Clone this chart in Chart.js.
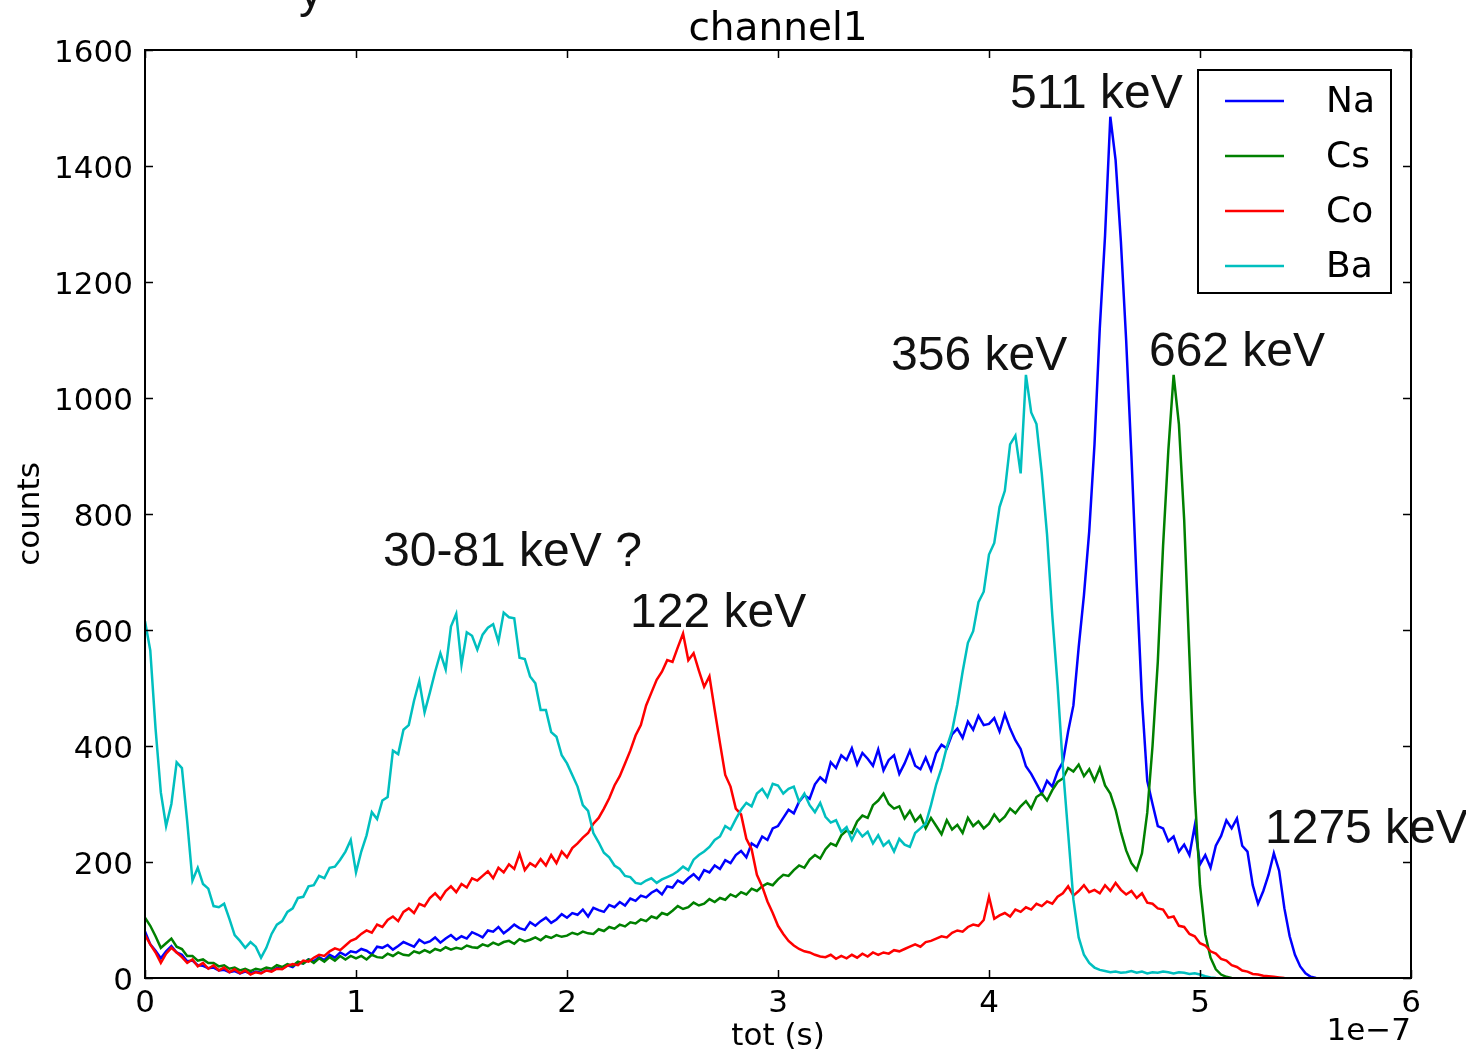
<!DOCTYPE html>
<html>
<head>
<meta charset="utf-8">
<title>channel1</title>
<script src="https://cdn.jsdelivr.net/npm/chart.js@4.4.1/dist/chart.umd.min.js"></script>
<style>
  html, body { margin: 0; padding: 0; background: #ffffff; }
  canvas { display: block; }
</style>
</head>
<body>
<canvas id="spectrum" width="1466" height="1052"></canvas>
<script>
// Bin positions of the time-over-threshold histogram, in units of 1e-7 s
const totBins = [
  0,0.025,0.05,0.075,0.1,0.125,0.15,0.175,0.2,0.225,0.25,0.275,0.3,0.325,0.35,0.375,0.4,0.425,0.45,0.475,
  0.5,0.525,0.55,0.575,0.6,0.625,0.65,0.675,0.7,0.725,0.75,0.775,0.8,0.825,0.85,0.875,0.9,0.925,0.95,0.975,
  1,1.025,1.05,1.075,1.1,1.125,1.15,1.175,1.2,1.225,1.25,1.275,1.3,1.325,1.35,1.375,1.4,1.425,1.45,1.475,
  1.5,1.525,1.55,1.575,1.6,1.625,1.65,1.675,1.7,1.725,1.75,1.775,1.8,1.825,1.85,1.875,1.9,1.925,1.95,1.975,
  2,2.025,2.05,2.075,2.1,2.125,2.15,2.175,2.2,2.225,2.25,2.275,2.3,2.325,2.35,2.375,2.4,2.425,2.45,2.475,
  2.5,2.525,2.55,2.575,2.6,2.625,2.65,2.675,2.7,2.725,2.75,2.775,2.8,2.825,2.85,2.875,2.9,2.925,2.95,2.975,
  3,3.025,3.05,3.075,3.1,3.125,3.15,3.175,3.2,3.225,3.25,3.275,3.3,3.325,3.35,3.375,3.4,3.425,3.45,3.475,
  3.5,3.525,3.55,3.575,3.6,3.625,3.65,3.675,3.7,3.725,3.75,3.775,3.8,3.825,3.85,3.875,3.9,3.925,3.95,3.975,
  4,4.025,4.05,4.075,4.1,4.125,4.15,4.175,4.2,4.225,4.25,4.275,4.3,4.325,4.35,4.375,4.4,4.425,4.45,4.475,
  4.5,4.525,4.55,4.575,4.6,4.625,4.65,4.675,4.7,4.725,4.75,4.775,4.8,4.825,4.85,4.875,4.9,4.925,4.95,4.975,
  5,5.025,5.05,5.075,5.1,5.125,5.15,5.175,5.2,5.225,5.25,5.275,5.3,5.325,5.35,5.375,5.4,5.425,5.45,5.475,
  5.5,5.525,5.55
];

// Counts per bin for each source
const naCounts = [
  80,58,47,34,46,55,44,40,29,30,22,21,17,18,13,14,10,12,8,11,
  8,11,9,13,12,17,16,22,19,27,25,32,29,36,31,40,35,44,39,46,
  44,50,47,41,54,52,57,49,55,62,58,54,66,60,63,70,61,68,74,66,
  72,68,79,75,70,82,80,88,77,84,92,86,83,96,90,98,104,95,101,110,
  104,112,109,118,106,121,117,114,126,122,131,125,137,133,142,139,147,152,144,158,
  156,168,163,172,179,170,186,182,194,188,203,198,212,219,208,232,226,244,238,258,
  262,276,290,284,304,315,309,334,346,338,372,362,384,376,396,368,388,378,366,394,
  358,376,384,352,370,392,366,360,380,358,388,402,396,420,430,414,442,428,452,436,
  438,448,425,455,430,410,395,365,352,335,318,340,330,356,372,425,470,570,660,770,
  920,1120,1280,1485,1410,1270,1100,900,680,480,340,300,262,258,236,244,218,230,212,262,
  196,212,190,228,245,272,258,275,228,218,160,128,150,178,215,185,120,72,40,20,
  8,2,0
];

const csCounts = [
  104,90,72,52,60,68,54,50,38,38,30,32,26,26,20,22,16,18,13,16,
  12,16,14,18,16,22,19,24,21,28,25,32,26,34,28,36,30,38,32,38,
  34,38,32,40,36,35,42,38,44,40,39,46,43,48,44,50,47,53,49,52,
  50,56,53,52,58,55,61,57,62,64,59,67,63,66,70,65,72,69,74,71,
  73,78,75,80,77,76,84,81,88,85,92,89,96,94,101,98,106,103,112,109,
  116,124,119,122,130,125,128,136,131,138,135,144,140,148,144,154,150,158,163,160,
  170,178,176,186,194,190,204,212,206,222,232,228,246,254,250,270,280,276,298,306,
  318,300,292,296,275,288,270,280,258,276,262,248,272,256,264,250,276,262,270,258,
  266,282,270,278,292,284,296,305,292,312,318,306,324,338,344,362,356,368,348,360,
  340,362,332,318,290,252,220,198,186,215,285,400,545,745,910,1040,955,790,555,320,
  160,75,35,15,6,2,0
];

const coCounts = [
  74,58,44,26,42,52,44,36,26,32,20,26,16,22,13,18,10,15,8,13,
  6,10,8,13,11,16,15,21,24,22,30,28,35,40,38,46,51,48,56,64,
  68,76,82,78,92,88,100,106,98,114,120,112,128,124,138,146,136,150,158,148,
  162,156,172,168,176,184,172,190,182,196,188,214,186,198,192,205,194,212,198,218,
  208,224,232,242,250,266,276,292,310,332,348,370,392,418,436,470,492,514,528,548,
  545,570,594,548,560,530,502,520,462,405,350,330,292,282,240,222,178,158,132,112,
  90,76,64,56,50,46,44,40,37,36,40,33,38,34,40,35,42,37,44,40,
  44,42,48,46,50,54,58,54,62,64,68,72,70,78,82,80,88,92,90,100,
  140,102,108,112,106,118,114,122,118,128,124,132,128,140,146,158,142,150,160,148,
  152,146,160,150,164,152,144,150,138,146,130,128,120,118,104,106,90,88,76,72,
  60,56,46,42,33,30,22,19,13,11,7,6,4,3,2,1,0
];

const baCounts = [
  615,565,430,320,262,300,372,362,270,168,190,162,154,124,122,128,102,74,64,52,
  62,54,35,52,76,92,98,114,120,138,140,158,160,176,172,190,192,204,218,238,
  182,218,246,286,274,306,312,392,386,428,436,478,512,458,492,528,560,532,606,628,
  540,596,590,566,592,604,610,580,630,622,620,552,550,520,508,462,462,424,416,384,
  370,350,330,298,288,250,234,216,208,194,188,176,174,164,162,168,172,164,170,174,
  178,184,192,186,204,212,218,226,238,244,262,256,274,290,302,296,318,326,312,335,
  332,318,326,330,304,318,298,286,302,278,268,272,252,260,238,256,244,252,232,246,
  228,236,218,240,230,226,250,258,266,298,334,362,398,426,472,528,578,598,648,666,
  730,750,812,840,920,935,870,1040,975,955,870,765,625,505,365,250,135,70,40,26,
  18,14,12,10,11,9,10,12,9,11,8,10,9,11,10,8,10,9,7,8,
  6,3,1,0
];

const sourceNames = ['Na', 'Cs', 'Co', 'Ba'];
const xTickValues = [0, 1, 2, 3, 4, 5, 6];
const yTickValues = [0, 200, 400, 600, 800, 1000, 1200, 1400, 1600];

// Photopeak notes, anchored in data coordinates (left edge, text baseline)
const peakNotes = [
  { text: '511 keV',     x: 4.100, y: 1500 },
  { text: '356 keV',     x: 3.536, y: 1048 },
  { text: '662 keV',     x: 4.758, y: 1055 },
  { text: '30-81 keV ?', x: 1.128, y: 710 },
  { text: '122 keV',     x: 2.299, y: 605 },
  { text: '1275 keV',    x: 5.308, y: 233 }
];

const lineColors = ['#0000ff', '#008000', '#ff0000', '#00bfbf'];
const countSeries = [naCounts, csCounts, coCounts, baCounts];

const AXIS_FONT = '"DejaVu Sans", "Liberation Sans", sans-serif';
const NOTE_FONT = '"Liberation Sans", Arial, sans-serif';

// Axes frame, inward ticks, tick labels, titles, notes and legend
const axesDecor = {
  id: 'axesDecor',
  afterDatasetsDraw(chart) {
    const { ctx, chartArea: a, scales: { x, y } } = chart;
    ctx.save();

    // frame
    ctx.strokeStyle = '#000';
    ctx.lineWidth = 2;
    ctx.strokeRect(a.left, a.top, a.right - a.left, a.bottom - a.top);

    // inward ticks on all four sides
    ctx.lineWidth = 1.5;
    ctx.beginPath();
    xTickValues.forEach(v => {
      const px = Math.round(x.getPixelForValue(v)) + 0.5;
      ctx.moveTo(px, a.bottom); ctx.lineTo(px, a.bottom - 8);
      ctx.moveTo(px, a.top); ctx.lineTo(px, a.top + 8);
    });
    yTickValues.forEach(v => {
      const py = Math.round(y.getPixelForValue(v)) + 0.5;
      ctx.moveTo(a.left, py); ctx.lineTo(a.left + 8, py);
      ctx.moveTo(a.right, py); ctx.lineTo(a.right - 8, py);
    });
    ctx.stroke();

    // tick labels
    ctx.fillStyle = '#000';
    ctx.font = '31px ' + AXIS_FONT;
    ctx.textAlign = 'center';
    ctx.textBaseline = 'alphabetic';
    xTickValues.forEach(v => {
      ctx.fillText(String(v), x.getPixelForValue(v), a.bottom + 34);
    });
    ctx.textAlign = 'right';
    yTickValues.forEach(v => {
      ctx.fillText(String(v), a.left - 12, y.getPixelForValue(v) + 12);
    });

    // offset (scale factor) of the x axis
    ctx.textAlign = 'right';
    ctx.fillText('1e\u22127', a.right, a.bottom + 62);

    // axis labels
    ctx.textAlign = 'center';
    ctx.fillText('tot (s)', (a.left + a.right) / 2, a.bottom + 67);
    ctx.save();
    ctx.translate(39, (a.top + a.bottom) / 2);
    ctx.rotate(-Math.PI / 2);
    ctx.fillText('counts', 0, 0);
    ctx.restore();

    // title
    ctx.font = '39px ' + AXIS_FONT;
    ctx.fillText('channel1', (a.left + a.right) / 2, a.top - 10);

    // photopeak notes
    ctx.font = '48px ' + NOTE_FONT;
    ctx.textAlign = 'left';
    ctx.fillStyle = '#111';
    peakNotes.forEach(n => {
      ctx.fillText(n.text, x.getPixelForValue(n.x), y.getPixelForValue(n.y));
    });
    // caption line above the figure, mostly cut off at the top edge
    ctx.fillText('y', 299, 7);

    // legend box in the upper right corner
    const lx = a.right - 213, ly = a.top + 20, lw = 193, lh = 223;
    ctx.fillStyle = '#fff';
    ctx.fillRect(lx, ly, lw, lh);
    ctx.strokeStyle = '#000';
    ctx.lineWidth = 2;
    ctx.strokeRect(lx, ly, lw, lh);
    ctx.font = '36px ' + AXIS_FONT;
    ctx.textBaseline = 'middle';
    chart.data.datasets.forEach((ds, i) => {
      const rowY = ly + 31 + i * 55;
      ctx.strokeStyle = ds.borderColor;
      ctx.lineWidth = 2.5;
      ctx.beginPath();
      ctx.moveTo(lx + 27, rowY); ctx.lineTo(lx + 86, rowY);
      ctx.stroke();
      ctx.fillStyle = '#000';
      ctx.fillText(ds.label, lx + 128, rowY + 2);
    });

    ctx.restore();
  }
};

const datasets = sourceNames.map((name, i) => ({
  label: name,
  data: countSeries[i].map((c, k) => ({ x: totBins[k], y: c })),
  borderColor: lineColors[i],
  backgroundColor: lineColors[i],
  borderWidth: 2.5,
  pointRadius: 0,
  tension: 0,
  fill: false,
  // later sources are painted over earlier ones
  order: sourceNames.length - i
}));

new Chart(document.getElementById('spectrum'), {
  type: 'line',
  data: { datasets },
  options: {
    responsive: false,
    animation: false,
    devicePixelRatio: 1,
    layout: { padding: { left: 145, top: 50, right: 55, bottom: 74 } },
    scales: {
      x: { type: 'linear', min: 0, max: 6, display: false },
      y: { type: 'linear', min: 0, max: 1600, display: false }
    },
    plugins: {
      legend: { display: false },
      title: { display: false },
      tooltip: { enabled: false }
    },
    events: []
  },
  plugins: [axesDecor]
});
</script>
</body>
</html>
